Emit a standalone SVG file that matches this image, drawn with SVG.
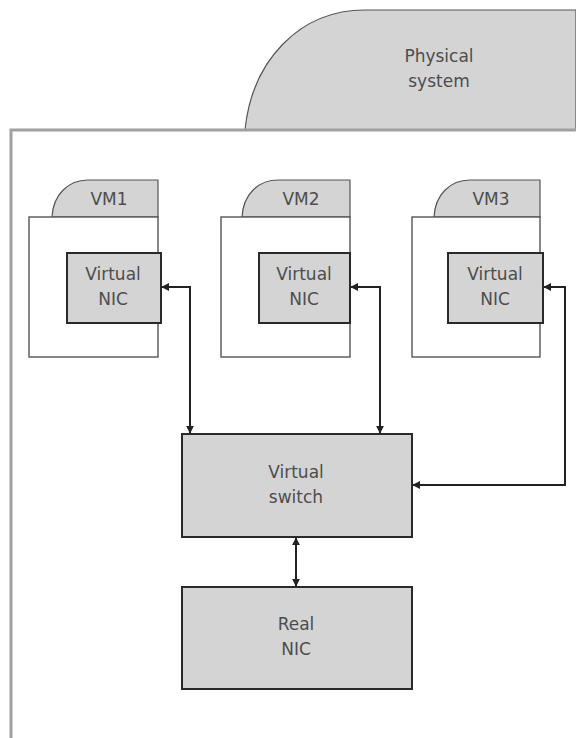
<svg xmlns="http://www.w3.org/2000/svg" width="576" height="738" viewBox="0 0 576 738">
  <defs>
    <marker id="ah" viewBox="0 0 10 10" refX="9" refY="5" markerWidth="8" markerHeight="8" orient="auto-start-reverse" markerUnits="userSpaceOnUse">
      <path d="M0,0 L10,5 L0,10 z" fill="#222"/>
    </marker>
    <style>
      .lbl { font-family: "DejaVu Sans", "Liberation Sans", sans-serif; font-size: 17px; fill: #4d4d4d; text-anchor: middle; }
      .tab { fill: #d4d4d4; stroke: #555; stroke-width: 1.2; }
      .vm { fill: #fff; stroke: #555; stroke-width: 1.4; }
      .box { fill: #d4d4d4; stroke: #2a2a2a; stroke-width: 2; }
      .wire { fill: none; stroke: #222; stroke-width: 2; }
    </style>
  </defs>
  <rect width="576" height="738" fill="#fff"/>

  <!-- physical system container -->
  <g id="physical">
    <path d="M245,130 C252,60 300,10 365,10 L576,10 L576,130 Z" class="tab" stroke="#777"/>
    <path d="M11,738 L11,130 L576,130" fill="none" stroke="#a0a0a0" stroke-width="3"/>
    <text class="lbl" x="439" y="62" font-size="18">Physical</text>
    <text class="lbl" x="439" y="87" font-size="18">system</text>
  </g>

  <!-- virtual machines -->
  <g id="vm1">
    <path d="M52,217 C53,195 68,180 88,180 L158,180 L158,217 Z" class="tab"/>
    <rect x="29" y="217" width="129" height="140" class="vm"/>
    <text class="lbl" x="109" y="205">VM1</text>
  </g>
  <g id="vnic1">
    <rect x="67" y="253" width="94" height="70" class="box"/>
    <text class="lbl" x="113" y="280">Virtual</text>
    <text class="lbl" x="113" y="305">NIC</text>
  </g>

  <g id="vm2">
    <path d="M242,217 C243,195 258,180 278,180 L350,180 L350,217 Z" class="tab"/>
    <rect x="221" y="217" width="129" height="140" class="vm"/>
    <text class="lbl" x="301" y="205">VM2</text>
  </g>
  <g id="vnic2">
    <rect x="259" y="253" width="91" height="70" class="box"/>
    <text class="lbl" x="304" y="280">Virtual</text>
    <text class="lbl" x="304" y="305">NIC</text>
  </g>

  <g id="vm3">
    <path d="M434,217 C435,195 450,180 470,180 L540,180 L540,217 Z" class="tab"/>
    <rect x="412" y="217" width="128" height="140" class="vm"/>
    <text class="lbl" x="491" y="205">VM3</text>
  </g>
  <g id="vnic3">
    <rect x="448" y="253" width="95" height="70" class="box"/>
    <text class="lbl" x="495" y="280">Virtual</text>
    <text class="lbl" x="495" y="305">NIC</text>
  </g>

  <!-- switch and physical adapter -->
  <g id="vswitch">
    <rect x="182" y="434" width="230" height="103" class="box"/>
    <text class="lbl" x="296" y="478">Virtual</text>
    <text class="lbl" x="296" y="503">switch</text>
  </g>
  <g id="realnic">
    <rect x="182" y="587" width="230" height="102" class="box"/>
    <text class="lbl" x="296" y="630">Real</text>
    <text class="lbl" x="296" y="655">NIC</text>
  </g>

  <!-- connectors -->
  <g id="connectors">
    <path d="M162,287 L190,287 L190,433" class="wire" marker-start="url(#ah)" marker-end="url(#ah)"/>
    <path d="M351,287 L380,287 L380,433" class="wire" marker-start="url(#ah)" marker-end="url(#ah)"/>
    <path d="M544,287 L565,287 L565,485 L413,485" class="wire" marker-start="url(#ah)" marker-end="url(#ah)"/>
    <path d="M296,538 L296,586" class="wire" marker-start="url(#ah)" marker-end="url(#ah)"/>
  </g>
</svg>
